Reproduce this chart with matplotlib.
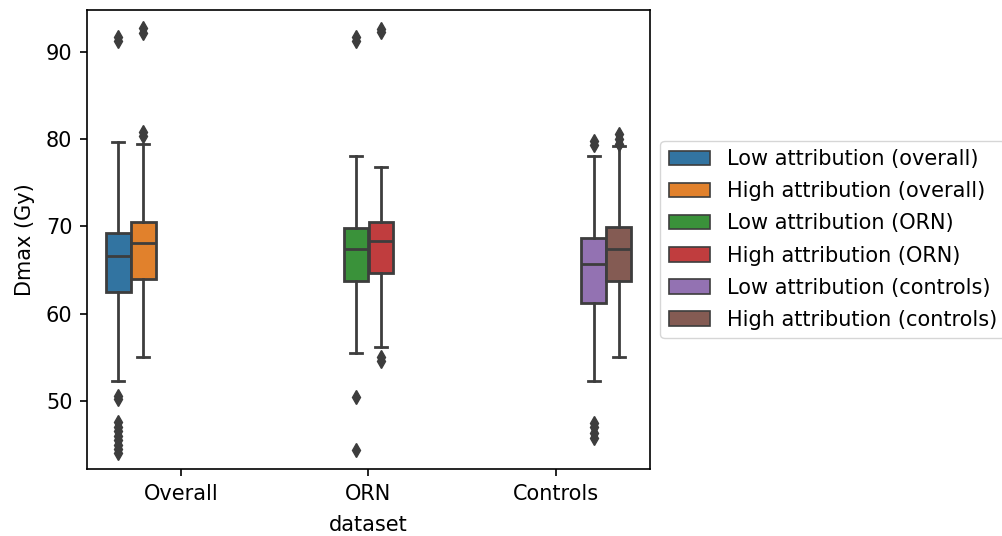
import matplotlib
matplotlib.use("Agg")
import matplotlib.pyplot as plt
from matplotlib.patches import Patch

# Dataset groups on the x axis
datasets = ["Overall", "ORN", "Controls"]

# Hue levels (one box each), and which dataset each belongs to
hue_labels = [
    "Low attribution (overall)",
    "High attribution (overall)",
    "Low attribution (ORN)",
    "High attribution (ORN)",
    "Low attribution (controls)",
    "High attribution (controls)",
]
hue_group = [0, 0, 1, 1, 2, 2]

# Box statistics (Dmax in Gy)
q1 = [62.5, 63.95, 63.7, 64.65, 61.2, 63.7]
medians = [66.6, 68.15, 67.4, 68.35, 65.7, 67.4]
q3 = [69.25, 70.45, 69.85, 70.5, 68.65, 69.9]
whislo = [52.3, 55.0, 55.5, 56.2, 52.3, 55.0]
whishi = [79.7, 79.4, 78.05, 76.8, 78.05, 79.25]
fliers = [
    [91.2, 91.7, 50.2, 50.6, 47.6, 47.0, 46.5, 46.0, 45.5, 45.0, 44.5, 44.0],
    [92.2, 92.7, 80.4, 80.8],
    [91.3, 91.7, 50.4, 44.4],
    [92.3, 92.6, 55.0, 54.6],
    [79.3, 79.8, 47.5, 47.0, 46.3, 45.8],
    [80.6, 80.0, 79.4],
]

colors = ["#3274a1", "#e1812c", "#3a923a", "#c03d3e", "#9372b2", "#845b53"]
gray = "#3d3d3d"

fig = plt.figure(figsize=(10.02, 5.36), dpi=100)
ax = fig.add_axes([0.0868, 0.125, 0.5619, 0.8563])

n_hue = len(hue_labels)
each_w = 0.8 / n_hue
positions = [g + (i - (n_hue - 1) / 2) * each_w for i, g in enumerate(hue_group)]

stats = []
for i in range(n_hue):
    stats.append(dict(med=medians[i], q1=q1[i], q3=q3[i],
                      whislo=whislo[i], whishi=whishi[i], fliers=fliers[i]))

lw = 2.0
bp = ax.bxp(
    stats, positions=positions, widths=each_w * 0.98, patch_artist=True,
    boxprops=dict(edgecolor=gray, linewidth=lw),
    medianprops=dict(color=gray, linewidth=lw),
    whiskerprops=dict(color=gray, linewidth=lw),
    capprops=dict(color=gray, linewidth=lw),
    flierprops=dict(marker="d", markerfacecolor=gray, markeredgecolor=gray,
                    markersize=7.5, linestyle="none"),
)
for box, c in zip(bp["boxes"], colors):
    box.set_facecolor(c)

ax.set_xlim(-0.5, 2.5)
ax.set_ylim(42.2, 94.8)
ax.set_xticks(range(len(datasets)))
ax.set_xticklabels(datasets)
ax.set_yticks([50, 60, 70, 80, 90])
ax.tick_params(labelsize=15, length=5.25, width=1.2, pad=5.25)
for s in ax.spines.values():
    s.set_linewidth(1.2)

ax.set_xlabel("dataset", fontsize=15, labelpad=8)
ax.set_ylabel("Dmax (Gy)", fontsize=15, labelpad=8)

handles = [Patch(facecolor=c, edgecolor=gray, linewidth=lw * 0.6, label=l)
           for c, l in zip(colors, hue_labels)]
ax.legend(handles=handles, loc="center left", bbox_to_anchor=(1.0, 0.5),
          fontsize=15, frameon=True, labelspacing=0.58)

fig.savefig("out.png", dpi=100)
